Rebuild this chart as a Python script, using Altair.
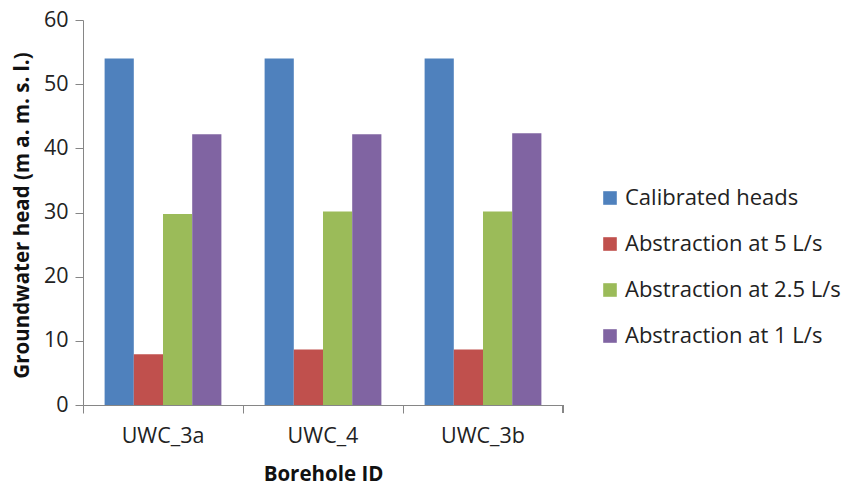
import altair as alt
import pandas as pd

boreholes = ["UWC_3a", "UWC_4", "UWC_3b"]
series = ["Calibrated heads", "Abstraction at 5 L/s", "Abstraction at 2.5 L/s", "Abstraction at 1 L/s"]
calibrated = [54.0, 54.0, 54.0]
abs_5 = [7.9, 8.65, 8.65]
abs_2_5 = [29.75, 30.15, 30.15]
abs_1 = [42.2, 42.2, 42.35]
colors = ["#4F81BD", "#C0504D", "#9BBB59", "#8064A2"]

rows = []
for s, vals in zip(series, [calibrated, abs_5, abs_2_5, abs_1]):
    for b, v in zip(boreholes, vals):
        rows.append({"borehole": b, "series": s, "value": v})
df = pd.DataFrame(rows)

FONT = "Open Sans"
GREY = "#868686"

bars = alt.Chart(df).mark_bar().encode(
    x=alt.X("borehole:N", sort=boreholes,
            scale=alt.Scale(paddingInner=0, paddingOuter=0),
            axis=alt.Axis(title="Borehole ID", bandPosition=0,
                          labelAngle=0, labelBaseline="middle", labelPadding=23,
                          tickSize=8, titleX=240, titleY=69, titleBaseline="middle",
                          titleAlign="center")),
    xOffset=alt.XOffset("series:N", sort=series,
                        scale=alt.Scale(paddingOuter=0.74, paddingInner=0)),
    y=alt.Y("value:Q", scale=alt.Scale(domain=[0, 60], nice=False),
            axis=alt.Axis(title="Groundwater head (m a. m. s. l.)", values=[0, 10, 20, 30, 40, 50, 60],
                          grid=False, tickSize=8, labelPadding=7,
                          titleX=-61, titleY=195, titleBaseline="middle", titleAlign="center",
                          titleAngle=-90)),
    color=alt.Color("series:N", sort=series,
                    scale=alt.Scale(domain=series, range=colors),
                    legend=alt.Legend(title=None, orient="none", legendX=516, legendY=167,
                                      symbolType="square", symbolSize=185,
                                      symbolStrokeWidth=0, labelFontSize=22, labelLimit=0,
                                      labelOffset=4, rowPadding=24, labelColor="#222")),
)

end_tick = alt.Chart(df).mark_rule(color=GREY, strokeWidth=1).encode(
    x=alt.value(480), y=alt.value(385), y2=alt.value(393)
)

chart = alt.layer(bars, end_tick).properties(
    width=480, height=385,
    autosize=alt.AutoSizeParams(type="none"),
    padding={"left": 75, "top": 12, "right": 286, "bottom": 81},
).configure(font=FONT).configure_view(stroke=None).configure_axis(
    domainColor=GREY, tickColor=GREY, labelColor="#222", titleColor="#111",
    labelFontSize=21.5, titleFontSize=20.5, titleFontWeight="bold", labelFont=FONT, titleFont=FONT,
)

chart.save("out.html", embed_options={"renderer": "svg", "actions": False})
